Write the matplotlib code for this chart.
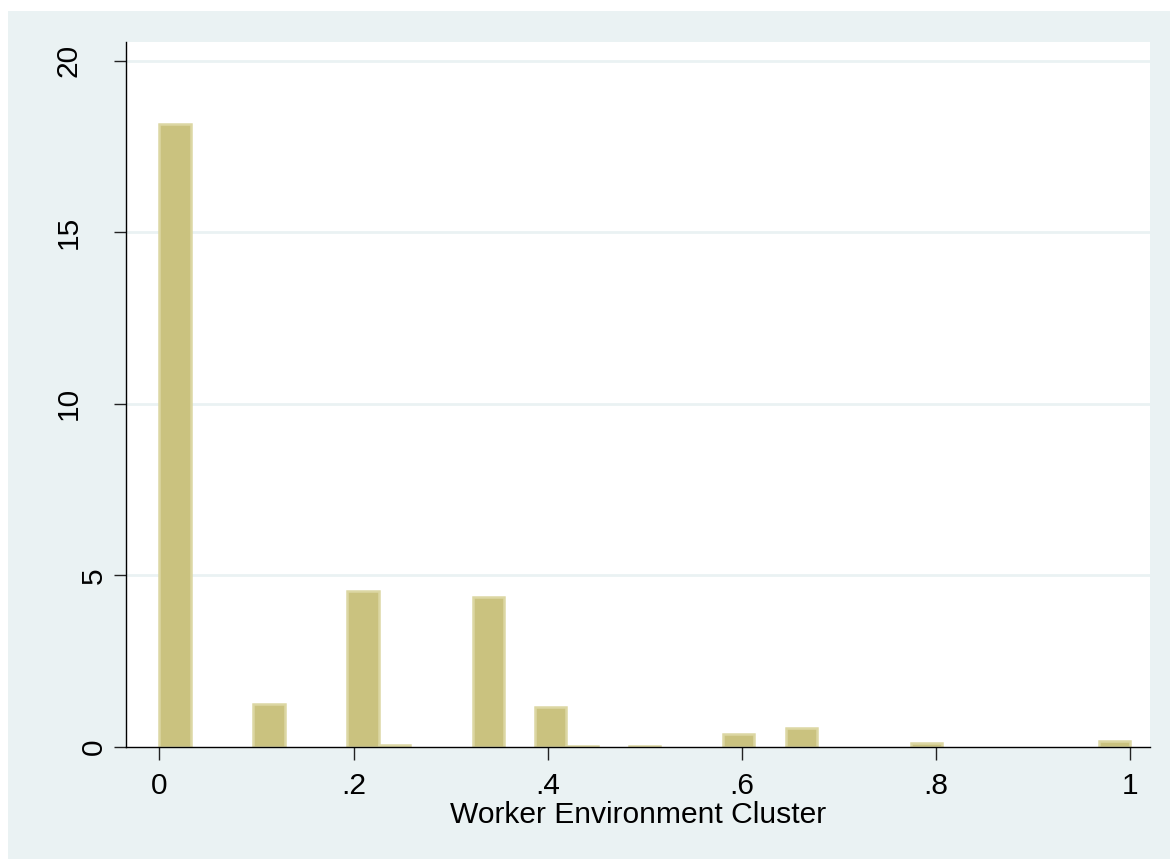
import numpy as np
import matplotlib
matplotlib.use('Agg')
import matplotlib.pyplot as plt
from matplotlib.patches import Rectangle

plt.rcParams['font.family'] = ['Liberation Sans', 'DejaVu Sans']

# histogram of the cluster share, 31 equal bins on [0, 1], density scale
nbins = 31
density = [18.15, 0, 0, 1.25, 0, 0, 4.55, 0.05, 0, 0,
           4.38, 0, 1.18, 0.03, 0, 0.03, 0, 0, 0.37, 0,
           0.54, 0, 0, 0, 0.11, 0, 0, 0, 0, 0, 0.17]
xticks = [0, 0.2, 0.4, 0.6, 0.8, 1]
xtick_labels = ['0', '.2', '.4', '.6', '.8', '1']
yticks = [0, 5, 10, 15, 20]
ytick_labels = ['0', '5', '10', '15', '20']
xtitle = 'Worker Environment Cluster'

bg = '#EAF2F3'
fill = '#CAC27F'
edge = '#DCD7A3'

fig = plt.figure(figsize=(11.7, 8.59), dpi=100)
fig.patch.set_facecolor('white')
fig.patches.append(Rectangle((8 / 1170, 0), 1, 1 - 11 / 859, transform=fig.transFigure,
                             facecolor=bg, edgecolor='none', zorder=-10))

ax = fig.add_axes([126 / 1170, 1 - 747 / 859, 1024 / 1170, 705 / 859])
ax.set_facecolor('white')

width = 1 / nbins
left = np.arange(nbins) / nbins
d = np.array(density)
keep = d > 0
ax.bar(left[keep], d[keep], width=width, align='edge', color=fill,
       edgecolor=edge, linewidth=1.8, zorder=2)

ax.set_xlim(-0.0343, 1.0203)
ax.set_ylim(0, 20.55)

for v in yticks[1:]:
    ax.axhline(v, color=bg, linewidth=2.0, zorder=1)

for s in ['top', 'right']:
    ax.spines[s].set_visible(False)
for s in ['left', 'bottom']:
    ax.spines[s].set_color('black')
    ax.spines[s].set_linewidth(1.0)
    ax.spines[s].set_zorder(3)

ax.set_xticks(xticks)
ax.set_xticklabels(xtick_labels)
ax.tick_params(axis='x', direction='out', length=9, width=1.0, color='#222222',
               labelsize=21.5, pad=9)
ax.set_yticks(yticks)
ax.set_yticklabels([])
ax.tick_params(axis='y', direction='out', length=9, width=1.0, color='#222222')

# rotated y labels, baseline set back from the axis by label length
for v, lab in zip(yticks, ytick_labels):
    off = (-1 + 25 * len(lab)) * 72 / 100
    ax.annotate(lab, xy=(0, v), xycoords=('axes fraction', 'data'),
                xytext=(-off, 0), textcoords='offset points',
                rotation=90, rotation_mode='anchor', ha='center', va='baseline',
                fontsize=21.5, annotation_clip=False)

ax.set_xlabel(xtitle, fontsize=21.6, labelpad=1)

plt.savefig('out.png', dpi=100, facecolor=fig.get_facecolor())
